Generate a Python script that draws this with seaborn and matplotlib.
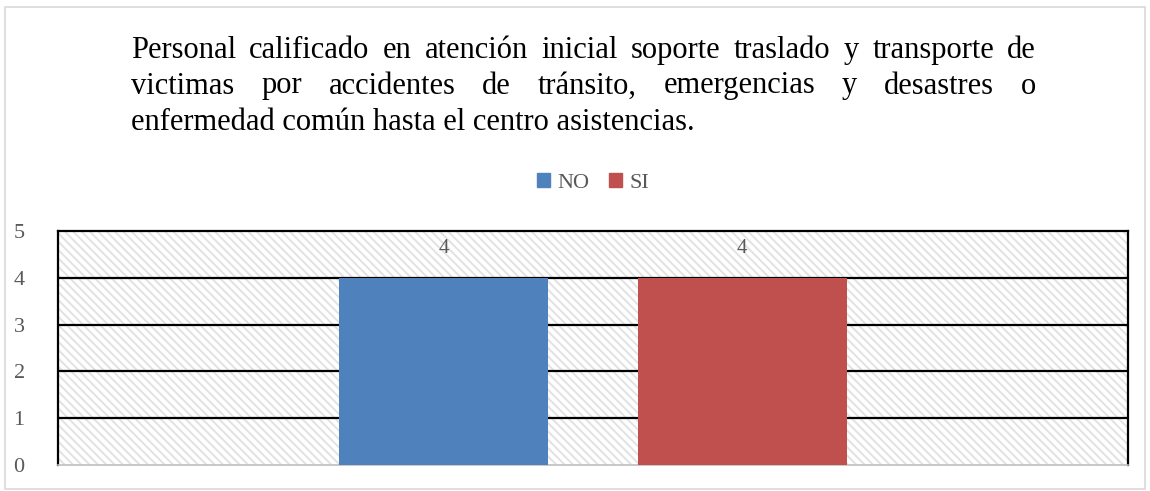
import matplotlib
matplotlib.use("Agg")
import matplotlib.pyplot as plt
import seaborn as sns
import pandas as pd
from matplotlib.patches import Rectangle

# --- data ---
categories = ["Personal"]
series = ["NO", "SI"]
values = [4, 4]
yticks = [0, 1, 2, 3, 4, 5]
title_lines = [
    "Personal calificado en atención inicial soporte traslado y transporte de",
    "victimas por accidentes de tránsito, emergencias y desastres o",
    "enfermedad común hasta el centro asistencias.",
]
colors = ["#4F81BD", "#C0504D"]

sns.set_theme(style="white")
plt.rcParams["font.family"] = ["Liberation Serif", "DejaVu Serif"]
plt.rcParams["hatch.color"] = "#e2e2e2"
plt.rcParams["hatch.linewidth"] = 1.4

df = pd.DataFrame({"cat": categories * len(series), "serie": series, "valor": values})

fig = plt.figure(figsize=(11.5, 4.91), dpi=100)
ax = fig.add_axes([58 / 1150, 26 / 491, 1070 / 1150, 234 / 491])

# hatched plot-area background
ax.add_patch(Rectangle((0, 0), 1, 1, transform=ax.transAxes, facecolor="white",
                       edgecolor="#e2e2e2", hatch="\\\\\\\\", linewidth=0, zorder=0))

sns.barplot(data=df, x="cat", y="valor", hue="serie", palette=colors,
            width=0.558, gap=0.30, saturation=1, legend=False, ax=ax,
            linewidth=0, zorder=3)
ax.set_xlim(-0.5, 0.5)
ax.set_ylim(0, 5)

for c in ax.containers:
    ax.bar_label(c, fmt="%d", padding=14, color="#595959", fontsize=15)

# gridlines
for y in yticks[1:5]:
    ax.axhline(y, color="black", lw=1.6, zorder=1)

ax.set_yticks(yticks)
ax.set_yticklabels([str(t) for t in yticks], color="#595959", fontsize=16)
ax.tick_params(axis="y", length=0, pad=24)
ax.set_xticks([])
ax.set_xlabel("")
ax.set_ylabel("")
for side in ["top", "left", "right"]:
    ax.spines[side].set_color("black")
    ax.spines[side].set_linewidth(1.6)
ax.spines["bottom"].set_color("#bfbfbf")
ax.spines["bottom"].set_linewidth(1.2)

# legend
handles = [Rectangle((0, 0), 1, 1, color=c) for c in colors]
fig.legend(handles, series, loc="center", bbox_to_anchor=(593 / 1150, 1 - 183 / 491),
           ncol=2, frameon=False, handlelength=0.6, handleheight=0.6,
           handletextpad=0.3, columnspacing=0.9,
           prop={"size": 16}, labelcolor="#595959")

# justified title
renderer = fig.canvas.get_renderer()
x0, x1 = 131 / 1150, 1036 / 1150
line_y = [50, 86, 122]
fs = 22
for i, line in enumerate(title_lines):
    yy = 1 - line_y[i] / 491
    if i == len(title_lines) - 1:
        fig.text(x0, yy, line, fontsize=fs, va="center", ha="left", color="black")
        continue
    words = line.split()
    texts = [fig.text(0, yy, w, fontsize=fs, va="center", ha="left", color="black") for w in words]
    widths = [t.get_window_extent(renderer).width / 1150 for t in texts]
    space = (x1 - x0 - sum(widths)) / (len(words) - 1)
    x = x0
    for t, w in zip(texts, widths):
        t.set_x(x)
        x += w + space

# outer chart border
fig.add_artist(Rectangle((5 / 1150, 2 / 491), 1140 / 1150, 482 / 491, transform=fig.transFigure,
                         fill=False, edgecolor="#d9d9d9", lw=1.2))

fig.savefig("out.png", dpi=100)
